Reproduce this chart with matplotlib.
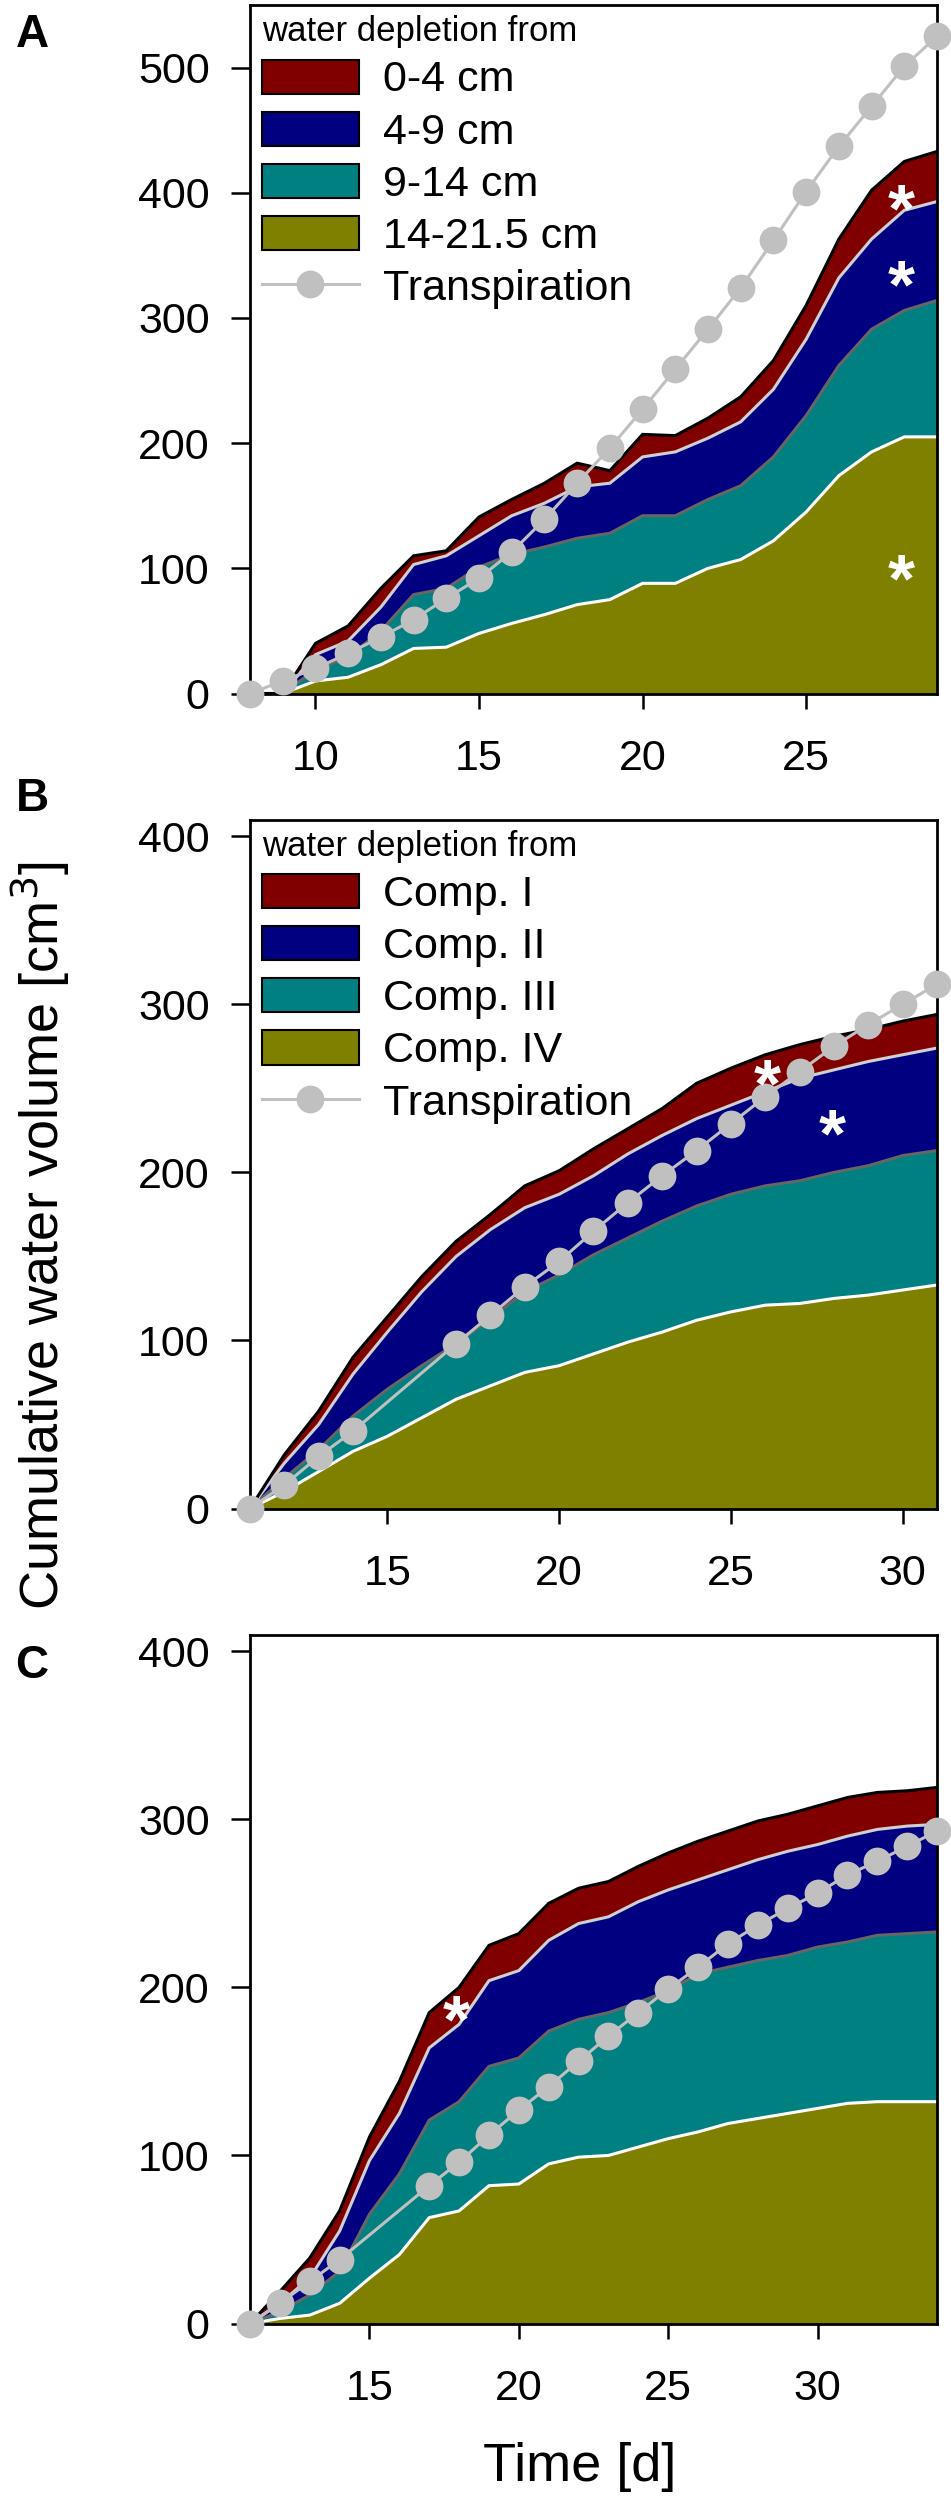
import matplotlib
matplotlib.use("Agg")
import matplotlib.pyplot as plt
from matplotlib.patches import Patch
from matplotlib.lines import Line2D

plt.rcParams['font.family'] = ['Liberation Sans', 'DejaVu Sans']

# colours of the four soil layers / compartments
layer_colors = ['#800000', '#000080', '#008080', '#808000']
edge_colors = ['black', '#d0d0d0', '#666666', 'white']
transp_color = '#c0c0c0'

# ---- panel A: depth layers, days 8-29 (cumulative tops of each layer) ----
a_days = list(range(8, 30))
a_transp = [0, 10, 20, 32, 45, 59, 76, 92, 113, 139, 168, 196, 227, 259, 291,
            324, 362, 401, 437, 469, 501, 525]
a_iv = [0, 0, 10, 13, 23, 36, 37, 48, 56, 63, 71, 75, 88, 88, 100, 107, 122,
        145, 174, 193, 205, 205]
a_iii = [0, 0, 19, 29, 50, 79, 84, 101, 111, 117, 124, 128, 142, 142, 155, 166,
         189, 222, 262, 291, 306, 314]
a_ii = [0, 0, 31, 42, 69, 103, 110, 126, 142, 152, 165, 168, 189, 193, 204, 217,
        243, 283, 332, 363, 386, 393]
a_i = [0, 0, 40, 54, 84, 110, 114, 141, 155, 168, 184, 178, 207, 206, 220, 237,
       266, 310, 363, 402, 425, 433]
a_labels = ['0-4 cm', '4-9 cm', '9-14 cm', '14-21.5 cm']

# ---- panel B: compartments, days 11-31 ----
b_days = list(range(11, 32))
b_transp_days = [11, 12, 13, 14] + list(range(17, 32))
b_transp = [0, 14, 31, 46, 98, 115, 132, 147, 165, 182, 198, 213, 229, 245,
            260, 275, 288, 300, 312]
b_iv = [0, 10, 22, 34, 43, 54, 65, 73, 81, 85, 92, 99, 105, 112, 117, 121, 122,
        125, 127, 130, 133]
b_iii = [0, 18, 35, 55, 71, 85, 98, 113, 129, 139, 151, 161, 171, 180, 187,
         192, 195, 200, 204, 210, 213]
b_ii = [0, 27, 50, 80, 105, 129, 150, 166, 179, 187, 198, 211, 222, 232, 240,
        248, 256, 261, 266, 270, 274]
b_i = [0, 32, 58, 90, 114, 138, 159, 175, 192, 201, 214, 226, 238, 253, 262,
       270, 276, 281, 285, 290, 294]
b_labels = ['Comp. I', 'Comp. II', 'Comp. III', 'Comp. IV']

# ---- panel C: compartments, days 11-34 ----
c_days = list(range(11, 35))
c_transp_days = [11, 12, 13, 14] + list(range(17, 35))
c_transp = [0, 12, 25, 38, 82, 96, 112, 127, 141, 156, 171, 185, 199, 212, 226,
            237, 247, 256, 267, 275, 284, 293]
c_iv = [0, 3, 5, 12, 27, 41, 63, 67, 82, 83, 95, 99, 100, 105, 110, 114, 119,
        122, 125, 128, 131, 132, 132, 132]
c_iii = [0, 7, 17, 31, 65, 89, 121, 132, 153, 158, 174, 181, 185, 191, 198,
         208, 212, 216, 219, 224, 227, 231, 232, 233]
c_ii = [0, 12, 27, 55, 97, 125, 164, 178, 204, 210, 228, 238, 242, 251, 258,
        264, 270, 276, 281, 285, 290, 294, 296, 297]
c_i = [0, 19, 39, 67, 111, 144, 185, 200, 225, 232, 250, 259, 263, 272, 280,
       287, 293, 299, 303, 308, 313, 316, 317, 319]

# significance stars (x, y)
a_stars = [(27.9, 400), (27.9, 339), (27.9, 104)]
b_stars = [(26.05, 262), (27.95, 232)]
c_stars = [(17.9, 190)]

fig = plt.figure(figsize=(9.51, 25), dpi=100)

W, H = 951, 2500
STAR_FS = 50


def make_axes(top_px, bottom_px):
    return fig.add_axes([250 / W, 1 - bottom_px / H, (937 - 250) / W,
                         (bottom_px - top_px) / H])


def draw_panel(ax, days, tops, tdays, transp, xlim, ylim, xticks, yticks,
               stars, labels=None):
    # tops: cumulative upper bounds from the deepest layer to the top layer
    lower = [0] * len(days)
    for top, col in zip(tops, layer_colors[::-1]):
        ax.fill_between(days, lower, top, color=col, linewidth=0, zorder=1)
        lower = top
    for top, ec in zip(tops, edge_colors[::-1]):
        ax.plot(days, top, color=ec, lw=2.2, zorder=2, solid_joinstyle='miter')
    ax.plot(tdays, transp, color=transp_color, lw=2.2, marker='o',
            markersize=20, markeredgewidth=0, zorder=4, clip_on=False)
    for sx, sy in stars:
        # baseline placement, shifted so the glyph centre sits on the point
        ax.annotate('*', (sx, sy), xytext=(0, -0.55 * STAR_FS),
                    textcoords='offset points', color='white',
                    fontsize=STAR_FS, fontweight='bold', ha='center',
                    va='baseline', zorder=5)
    ax.set_xlim(*xlim)
    ax.set_ylim(*ylim)
    ax.set_xticks(xticks)
    ax.set_yticks(yticks)
    ax.tick_params(axis='x', direction='out', length=11, width=1.8,
                   pad=22, labelsize=31, top=False)
    ax.tick_params(axis='y', direction='out', length=14, width=1.8,
                   pad=15, labelsize=31, right=False)
    for s in ax.spines.values():
        s.set_linewidth(2)
    if labels is not None:
        handles = [Patch(facecolor=c, edgecolor='black', linewidth=1.5)
                   for c in layer_colors]
        handles.append(Line2D([], [], color=transp_color, lw=2.2, marker='o',
                              markersize=20, markeredgewidth=0))
        leg = ax.legend(handles, labels + ['Transpiration'], loc='upper left',
                        bbox_to_anchor=(0.0175, 0.985), frameon=False,
                        title='water depletion from', title_fontsize=25,
                        fontsize=31, handlelength=2.25, handleheight=0.84,
                        handletextpad=0.56, labelspacing=0.26, borderpad=0,
                        borderaxespad=0, alignment='left')
        leg.set_zorder(6)


ax_a = make_axes(5, 693.5)
draw_panel(ax_a, a_days, [a_iv, a_iii, a_ii, a_i], a_days, a_transp,
           (8, 29), (0, 550), [10, 15, 20, 25], range(0, 501, 100), a_stars,
           a_labels)

ax_b = make_axes(819.5, 1508.5)
draw_panel(ax_b, b_days, [b_iv, b_iii, b_ii, b_i], b_transp_days, b_transp,
           (11, 31), (0, 410), [15, 20, 25, 30], range(0, 401, 100), b_stars,
           b_labels)

ax_c = make_axes(1634.5, 2323.5)
draw_panel(ax_c, c_days, [c_iv, c_iii, c_ii, c_i], c_transp_days, c_transp,
           (11, 34), (0, 410), [15, 20, 25, 30], range(0, 401, 100), c_stars)

for letter, ypx in [('A', 35), ('B', 799), ('C', 1666)]:
    fig.text(32 / W, 1 - ypx / H, letter, fontsize=33, fontweight='bold',
             ha='center', va='center')

fig.text(40 / W, 1 - 1235 / H, 'Cumulative water volume [cm$^3$]',
         rotation=90, fontsize=39, ha='center', va='center')
fig.text(580 / W, 1 - 2467 / H, 'Time [d]', fontsize=39, ha='center',
         va='center')

fig.savefig('out.png', dpi=100)
